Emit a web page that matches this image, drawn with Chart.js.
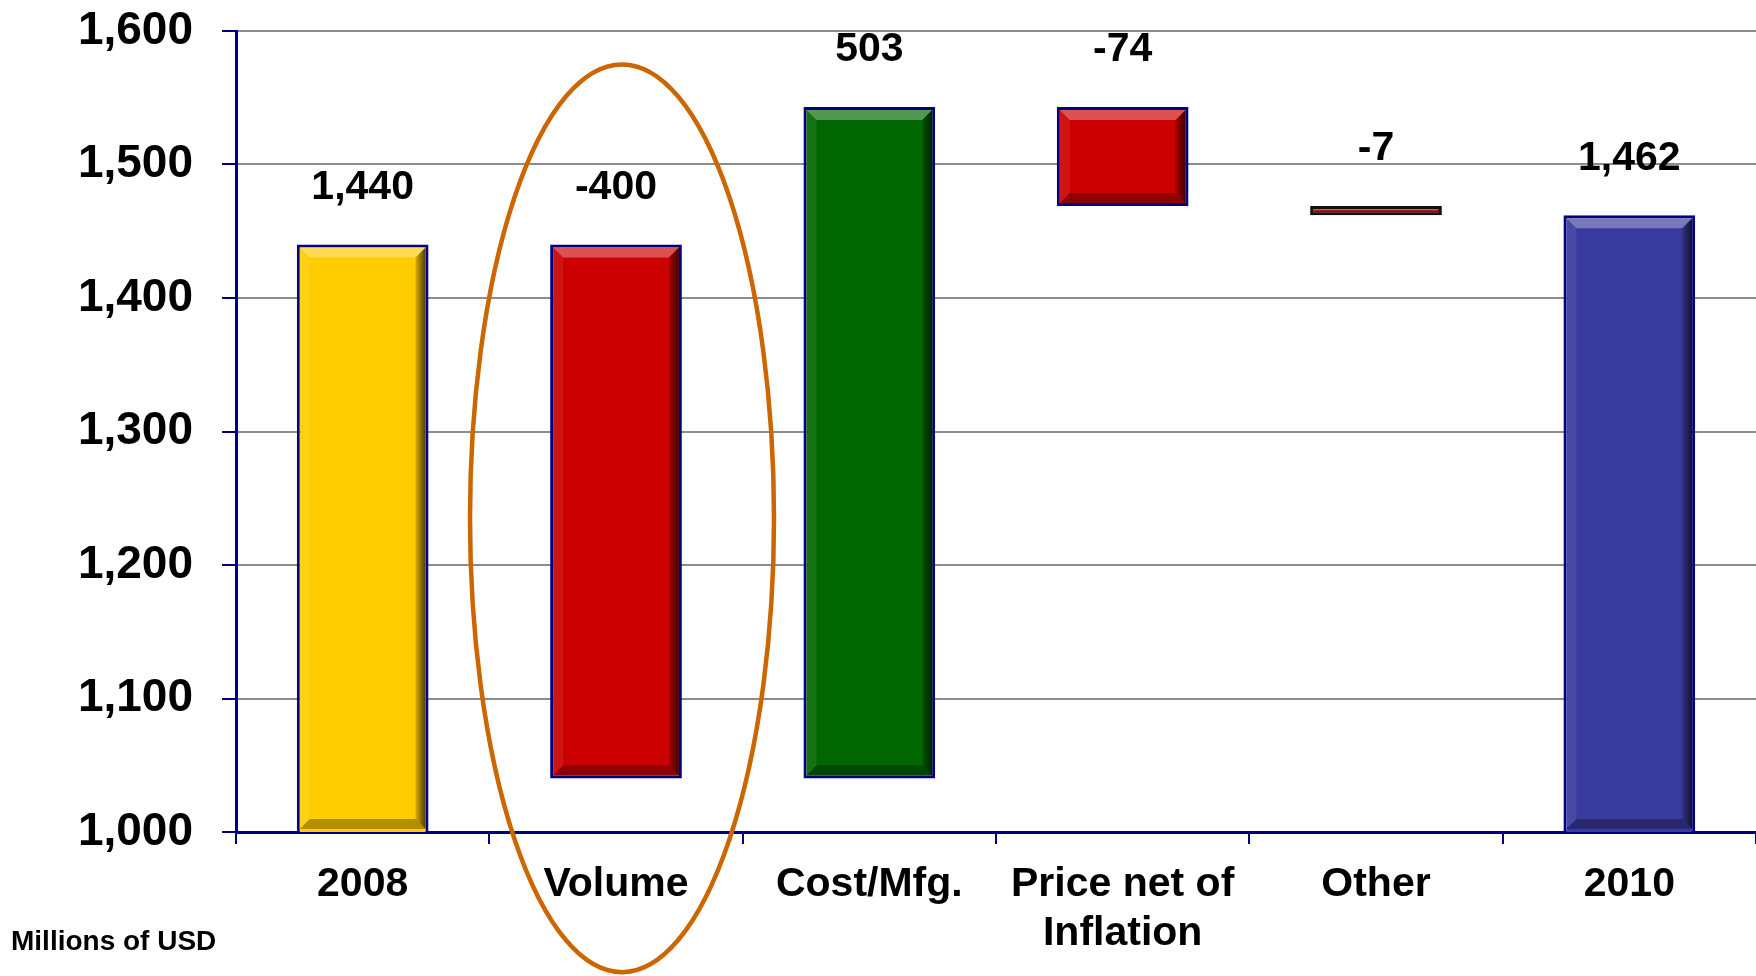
<!DOCTYPE html>
<html>
<head>
<meta charset="utf-8">
<script src="https://cdn.jsdelivr.net/npm/chart.js@4.4.1/dist/chart.umd.min.js"></script>
<style>
  html, body { margin: 0; padding: 0; background: #fff; }
  #wrap { width: 1756px; height: 976px; }
</style>
</head>
<body>
<div id="wrap"><canvas id="chart" width="1756" height="976"></canvas></div>
<script>
// values (millions of USD)
const categories = ['2008', 'Volume', 'Cost/Mfg.', ['Price net of', 'Inflation'], 'Other', '2010'];
const startTotal = 1440;
const changes = [-400, 503, -74, -7];
const endTotal = 1462;
const yTicks = [1000, 1100, 1200, 1300, 1400, 1500, 1600];

const barColors = ['#FFCC00', '#CC0000', '#006600', '#CC0000', '#CC0000', '#383A9E'];
const edgeColors = ['#000080', '#000080', '#000080', '#000080', '#111111', '#000080'];
const FONT = "'Liberation Sans', Arial, Helvetica, sans-serif";

// waterfall ranges built from the values
const ranges = [[0, startTotal]];
let running = startTotal;
changes.forEach(c => { ranges.push([running, running + c]); running += c; });
ranges.push([0, endTotal]);
const labelValues = [startTotal, ...changes, endTotal];

const bevelPlugin = {
  id: 'bevel',
  afterDatasetsDraw(chart) {
    const ctx = chart.ctx, area = chart.chartArea;
    const meta = chart.getDatasetMeta(0);
    ctx.save();
    ctx.beginPath();
    ctx.rect(area.left, area.top, area.right - area.left, area.bottom - area.top);
    ctx.clip();
    meta.data.forEach((el) => {
      const p = el.getProps(['x', 'y', 'base', 'width'], true);
      const bw = 3;
      const l = p.x - p.width / 2 + bw, r = p.x + p.width / 2 - bw;
      const t = Math.min(p.y, p.base) + bw;
      const b = Math.min(Math.max(p.y, p.base), area.bottom) - bw;
      if (b <= t) return;
      const d = Math.min(10, (b - t) / 2, (r - l) / 2);
      // top highlight
      ctx.fillStyle = 'rgba(255,255,255,0.32)';
      ctx.beginPath();
      ctx.moveTo(l, t); ctx.lineTo(r, t); ctx.lineTo(r - d, t + d); ctx.lineTo(l + d, t + d); ctx.closePath(); ctx.fill();
      // left soft
      ctx.fillStyle = 'rgba(255,255,255,0.08)';
      ctx.beginPath();
      ctx.moveTo(l, t); ctx.lineTo(l + d, t + d); ctx.lineTo(l + d, b - d); ctx.lineTo(l, b); ctx.closePath(); ctx.fill();
      // right shade
      const g = ctx.createLinearGradient(r - d, 0, r, 0);
      g.addColorStop(0, 'rgba(0,0,0,0.15)');
      g.addColorStop(1, 'rgba(0,0,0,0.7)');
      ctx.fillStyle = g;
      ctx.beginPath();
      ctx.moveTo(r, t); ctx.lineTo(r, b); ctx.lineTo(r - d, b - d); ctx.lineTo(r - d, t + d); ctx.closePath(); ctx.fill();
      // bottom shade
      ctx.fillStyle = 'rgba(0,0,0,0.3)';
      ctx.beginPath();
      ctx.moveTo(l, b); ctx.lineTo(r, b); ctx.lineTo(r - d, b - d); ctx.lineTo(l + d, b - d); ctx.closePath(); ctx.fill();
    });
    ctx.restore();

    // value labels above each bar
    ctx.save();
    ctx.font = 'bold 41px ' + FONT;
    ctx.fillStyle = '#000';
    ctx.textAlign = 'center';
    ctx.textBaseline = 'middle';
    meta.data.forEach((el, i) => {
      const p = el.getProps(['x', 'y', 'base'], true);
      const top = Math.min(p.y, p.base);
      ctx.fillText(labelValues[i].toLocaleString('en-US'), p.x, top - 57);
    });
    ctx.restore();
  },
  afterDraw(chart) {
    const ctx = chart.ctx;
    const xs = chart.scales.x, ys = chart.scales.y;
    // orange ring around the Volume column
    const cx = xs.getPixelForValue(1);
    const step = xs.getPixelForValue(1) - xs.getPixelForValue(0);
    const yTop = ys.getPixelForValue(1575), yBot = ys.getPixelForValue(895);
    ctx.save();
    ctx.strokeStyle = '#CC6600';
    ctx.lineWidth = 4.5;
    ctx.beginPath();
    ctx.ellipse(cx + 6, (yTop + yBot) / 2, step * 0.6, (yBot - yTop) / 2, 0, 0, Math.PI * 2);
    ctx.stroke();
    // units note
    ctx.font = 'bold 28px ' + FONT;
    ctx.fillStyle = '#000';
    ctx.textAlign = 'left';
    ctx.textBaseline = 'middle';
    ctx.fillText('Millions of USD', 11, 942);
    ctx.restore();
  }
};

new Chart(document.getElementById('chart'), {
  type: 'bar',
  data: {
    labels: categories,
    datasets: [{
      data: ranges,
      backgroundColor: barColors,
      borderColor: edgeColors,
      borderWidth: 3,
      borderSkipped: false,
      categoryPercentage: 1,
      barPercentage: 0.52
    }]
  },
  options: {
    responsive: false,
    animation: false,
    devicePixelRatio: 1,
    layout: { padding: { top: 31, left: 0, right: 0, bottom: 0 } },
    plugins: { legend: { display: false }, tooltip: { enabled: false } },
    scales: {
      x: {
        offset: true,
        grid: { display: true, drawOnChartArea: false, drawTicks: true, tickLength: 12, tickColor: '#000080', lineWidth: 2, offset: true },
        border: { display: true, color: '#000080', width: 3 },
        ticks: { font: { family: FONT, size: 41, weight: 'bold' }, color: '#000', padding: 16, maxRotation: 0, autoSkip: false },
        afterFit(s) { s.height = 144; s.paddingLeft = 0; s.paddingRight = 0; }
      },
      y: {
        min: yTicks[0],
        max: yTicks[yTicks.length - 1],
        afterBuildTicks(s) { s.ticks = yTicks.map(v => ({ value: v })); },
        grid: {
          color: (c) => (c.tick && c.tick.value === yTicks[0]) ? 'rgba(0,0,0,0)' : '#8C8C8C',
          lineWidth: 2, tickColor: '#000080', tickLength: 14
        },
        border: { display: true, color: '#000080', width: 3 },
        ticks: { font: { family: FONT, size: 46, weight: 'bold' }, color: '#000', padding: 29,
          callback: (v) => Number(v).toLocaleString('en-US') },
        afterFit(s) { s.width = 236; s.paddingTop = 0; s.paddingBottom = 0; }
      }
    }
  },
  plugins: [bevelPlugin]
});
</script>
</body>
</html>
